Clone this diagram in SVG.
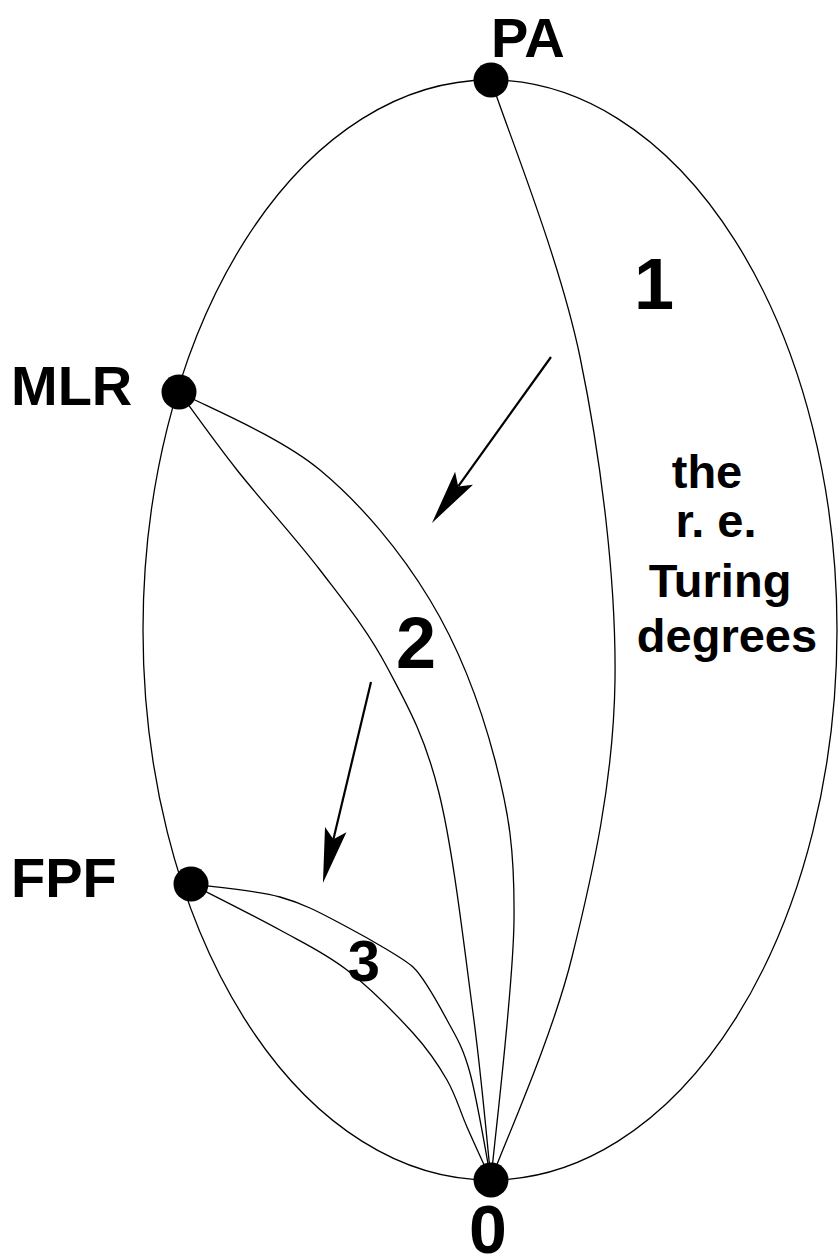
<svg xmlns="http://www.w3.org/2000/svg" width="838" height="1260" viewBox="0 0 838 1260">
<style>
.edge{fill:none;stroke:#000;stroke-width:1.3}
.arrow{fill:none;stroke:#000;stroke-width:2.2}
.dot{fill:#000}
.lbl{font-family:"Liberation Sans",Arial,Helvetica,sans-serif;font-weight:bold;fill:#000}
.node{font-size:56px}
.num{font-size:72px;text-anchor:middle}
.txt{font-size:47px;text-anchor:middle}
</style>
<defs>
<marker id="ah" markerUnits="userSpaceOnUse" markerWidth="56" markerHeight="23" refX="10" refY="11" orient="auto" overflow="visible">
<path d="M0,0 L55,11 L0,22 L10,11 Z" fill="#000"/>
</marker>
</defs>
<rect width="838" height="1260" fill="#fff"/>
<g id="connectors">
<ellipse class="edge" cx="490" cy="630" rx="347" ry="550"/>
<path id="e-PA-0" class="edge" d="M491,80 C505.8,126.2 559.3,257 580,357 C600.7,457 616.3,580 615,680 C613.7,780 592.7,873.7 572,957 C551.3,1040.3 504.5,1142.8 491,1180"/>
<path id="e-MLR-0-a" class="edge" d="M179,392 C202.5,405 278.2,435.3 320,470 C361.8,504.7 400.8,551.7 430,600 C459.2,648.3 481,706.7 495,760 C509,813.3 514.7,850 514,920 C513.3,990 494.8,1136.7 491,1180"/>
<path id="e-MLR-0-b" class="edge" d="M179,392 C188.7,405 213.5,440.3 237,470 C260.5,499.7 295,537.2 320,570 C345,602.8 367.2,629.8 387,667 C406.8,704.2 424.7,735.3 439,793 C453.3,850.7 464.3,948.5 473,1013 C481.7,1077.5 488,1152.2 491,1180"/>
<path id="e-FPF-0-a" class="edge" d="M191,884 C205.8,886.2 254,889.8 280,897 C306,904.2 324.8,915.3 347,927 C369.2,938.7 404.7,959.3 413,967 C421.3,974.8 437.5,1002.3 447,1020 C456.5,1037.7 462.7,1046.3 470,1073 C477.3,1099.7 487.5,1162.2 491,1180"/>
<path id="e-FPF-0-b" class="edge" d="M191,884 C205.8,891.7 254,915.7 280,930 C306,944.3 324.8,952.8 347,970 C369.2,987.2 396.3,1014.7 413,1033 C429.7,1051.3 438,1064.3 447,1080 C456,1095.7 459.7,1110.3 467,1127 C474.3,1143.7 487,1171.2 491,1180"/>
<line id="arrow-1" class="arrow" x1="551" y1="357" x2="458.2" y2="486.4" marker-end="url(#ah)"/>
<line id="arrow-2" class="arrow" x1="371" y1="682" x2="333.4" y2="839.3" marker-end="url(#ah)"/>
</g>
<g id="node-PA">
<circle class="dot" cx="491" cy="80" r="17.5"/>
<text class="lbl node" x="491" y="57">PA</text>
</g>
<g id="node-MLR">
<circle class="dot" cx="179" cy="392" r="17.5"/>
<text class="lbl node" x="11" y="405">MLR</text>
</g>
<g id="node-FPF">
<circle class="dot" cx="191" cy="884" r="17.5"/>
<text class="lbl node" x="11" y="897">FPF</text>
</g>
<g id="node-0">
<circle class="dot" cx="491" cy="1180" r="17.5"/>
<text class="lbl num" x="488" y="1253" style="font-size:68px">0</text>
</g>
<g id="labels">
<text class="lbl num" x="654" y="309">1</text>
<text class="lbl num" x="416" y="668">2</text>
<text class="lbl num" x="364" y="981" style="font-size:58px">3</text>
<text class="lbl txt" x="707" y="488">the</text>
<text class="lbl txt" x="716" y="537">r. e.</text>
<text class="lbl txt" x="720" y="597">Turing</text>
<text class="lbl txt" x="727" y="652">degrees</text>
</g>
</svg>
